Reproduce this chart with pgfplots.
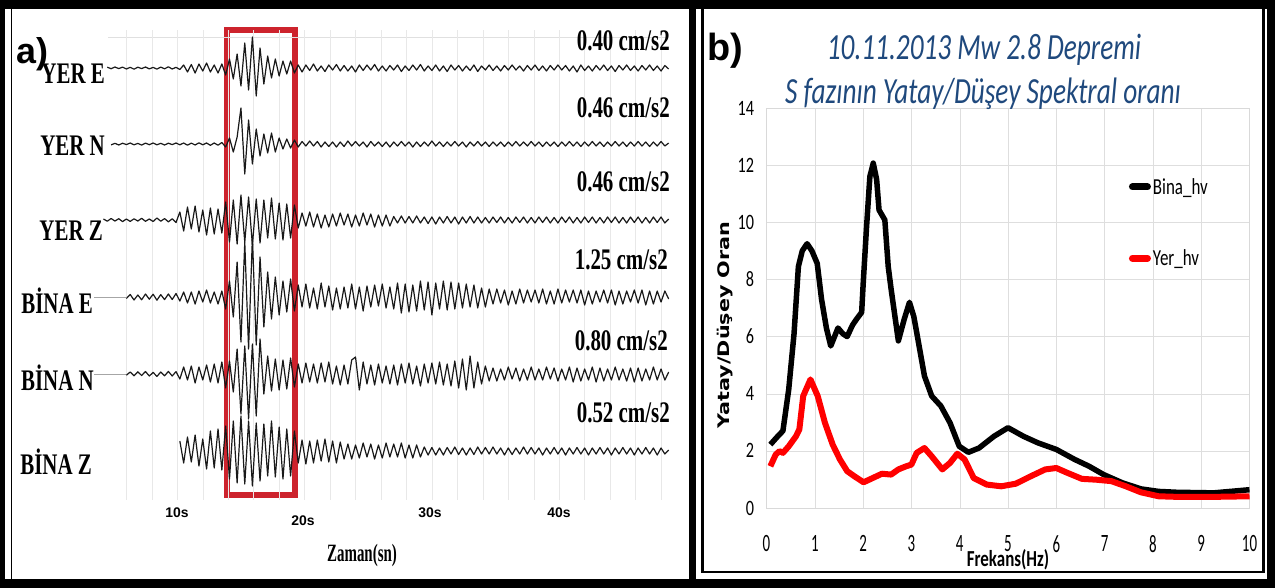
\documentclass[border=0pt]{standalone}
\usepackage{fontspec}
\usepackage{pgfplots}
\usepackage{pgfplotstable}
\pgfplotsset{compat=1.18}
\setmainfont{Liberation Sans}
\newfontfamily\tnr[FakeStretch=0.7]{Liberation Serif}
\newfontfamily\tnrz[FakeStretch=0.6]{Liberation Serif}
\newfontfamily\arl{Liberation Sans}
\newfontfamily\carl[FakeStretch=0.74]{Carlito}
\newfontfamily\carlx[FakeStretch=0.6]{Carlito}
\newfontfamily\dvs[FakeStretch=1.3]{DejaVu Sans}
\definecolor{ttl}{RGB}{31,73,125}
\definecolor{boxred}{RGB}{205,35,45}
\newcommand{\fs}[1]{\fontsize{#1}{#1}\selectfont}

% seismogram traces (px offsets from each baseline), t in s
\pgfplotstableread{
t ye yn yz be bn bz
4.2 0.5 0.4 -1 0 0 0
4.5 -0.8 -0.6 1.2 0 0 0
4.8 0.7 0.9 -1.5 0 0 0
5.1 -1 -0.7 1 0 0 0
5.4 0.6 1 -1.3 0 0 0
5.7 -0.9 -0.8 1.6 0 0 0
6.0 1 0.6 -1 1.5 1.2 0
6.3 -0.7 -1 1.4 -2.5 -2 0
6.6 1.2 0.8 -1.2 3 1.8 0
6.9 -0.8 -0.6 1 -2 -2.2 0
7.2 0.6 1.1 -1.7 2.8 1.5 0
7.5 -1 -0.9 1.3 -3 -2.5 0
7.8 0.9 0.7 -1 2.2 2 0
8.1 -0.6 -1 1.5 -2.8 -1.6 0
8.4 1.1 0.8 -2 3.2 2.4 0
8.7 -0.9 -0.7 1.2 -2.4 -2 0
9.0 0.8 1 -1.4 2.6 1.8 0
9.3 -1.2 -0.8 1.8 -3 -2.6 0
9.6 1 0.6 -1.2 2.5 2 0
9.9 -0.7 -1 2.5 -3.5 -2.4 0
10.2 1.5 0.8 -8 4 5 -10
10.5 -3 -1 11 -5 -7 12
10.8 4 1.2 -13 6 6 -14
11.1 -3.5 -0.9 9 -5 -8 11
11.4 5 1 -14 7 9 -16
11.7 -4 -1.2 12 -6 -7 15
12.0 3 0.8 -10 5 6 -12
12.3 -5 -1 15 -7 -9 18
12.6 4 1.3 -12 6 8 -20
12.9 -3 -1 14 -5 -10 17
13.2 5 1.2 -11 7 9 -22
13.5 -4 -1.5 13 -6 -12 19
13.8 7 3 -18 12 14 -25
14.1 -9 -6 22 -16 -13 28
14.4 11 8 -20 20 18 -30
14.7 -14 -7 24 -35 -25 32
15.0 18 -36 -25 45 40 -35
15.3 -25 30 22 -55 -28 33
15.6 22 -24 -23 52 45 -30
15.9 -31 20 25 -60 -30 35
16.2 28 -15 -21 48 42 -28
16.5 -20 12 23 -40 -35 30
16.8 16 -10 -20 30 20 -27
17.1 -12 9 18 -25 -18 25
17.4 10 -11 -22 22 17 -30
17.7 -9 8 19 -20 -15 26
18.0 8 -6 -17 18 16 -24
18.3 -7 5 20 -16 -14 28
18.6 6 -5 -16 15 15 -22
18.9 -7 4 18 -18 -16 25
19.2 5 -4 -15 14 13 -20
19.5 -3 3 8 -12 -10 12
19.8 4 -2.5 -7 10 9 -11
20.1 -3 2 6 -13 -11 13
20.4 2.5 -3 -8 11 8 -10
20.7 -4 2 7 -9 -10 12
21.0 3 -2.5 -6 12 9 -11
21.3 -2 3 8 -14 -11 10
21.6 3.5 -2 -5 10 8 -12
21.9 -3 2.5 7 -11 -12 11
22.2 2 -2 -6 13 10 -10
22.5 -3.5 3 6 -9 -8 12
22.8 3 -2 -7 12 11 -9
23.1 -2.5 2.5 5 -10 -9 8
23.4 3 -3 -6 11 10 -7
23.7 -2 2 7 -13 -14 8
24.0 4 -2.5 -5 12 -17 -6
24.3 -3 2 6 -10 16 7
24.6 2.5 -2 -7 14 -12 -8
24.9 -3 3 5 -11 10 6
25.2 2 -2.5 -6 10 -9 -7
25.5 -3.5 2 7 -12 11 8
25.8 3 -2 -5 9 -10 -6
26.1 -2 2.5 6 -13 9 7
26.4 3 -2 -5 11 -8 -8
26.7 -2.5 3 6 -10 10 6
27.0 2 -2 -3.5 12 -9 -7
27.3 -3 2 3 -14 11 6
27.6 3.5 -2.5 -4 16 -10 -8
27.9 -2 2 3 -13 9 7
28.2 2.5 -2 -3.5 15 -11 -6
28.5 -3 3 3 -12 10 7
28.8 2 -2 -4 14 -8 -6
29.1 -3.5 2.5 3 -16 12 6
29.4 3 -2 -3 13 -10 -4
29.7 -2 2 3.5 -15 9 4
30.0 2.5 -3 -3 18 -11 -3.5
30.3 -3 2 4 -14 10 4
30.6 3 -2 -3 12 -12 -3
30.9 -2 2.5 3 -16 11 4
31.2 3.5 -2 -3.5 13 -10 -3.5
31.5 -3 2 3 -15 12 3
31.8 2 -2.5 -3 12 -13 -4
32.1 -2.5 2 4 -14 14 3.5
32.4 3 -2 -3 11 -15 -3
32.7 -2 3 3 -13 16 4
33.0 2.5 -2 -3.5 10 -18 -3
33.3 -3 2 3 -12 14 3.5
33.6 3.5 -2.5 -3 11 -12 -4
33.9 -2 2 3 -9 10 3
34.2 2 -2 -2.5 10 -8 -3.5
34.5 -3 2.5 3 -8 7 3
34.8 2.5 -2 -3 7 -6 -4
35.1 -2 2 2.5 -8 7 3
35.4 3 -2 -3 6 -5 -3
35.7 -2.5 2.5 3 -7 6 4
36.0 2 -2 -2.5 8 -7 -3
36.3 -3 2 3 -6 5 3.5
36.6 2 -2.5 -3 7 -6 -3
36.9 -2 2 2.5 -8 7 3
37.2 3 -2 -3 6 -5 -4
37.5 -2.5 2 3 -7 6 3
37.8 2 -2.5 -2.5 5 -7 -3.5
38.1 -3 2 3 -7 6 3
38.4 2.5 -2 -3 6 -5 -3
38.7 -2 2.5 2.5 -8 6 4
39.0 3 -2 -3 7 -7 -3
39.3 -2.5 2 3 -6 5 3
39.6 2 -2 -2.5 7 -6 -3.5
39.9 -3 2.5 3 -8 7 3
40.2 2 -2 -3 6 -5 -3
40.5 -2.5 2 2.5 -7 6 4
40.8 3 -2.5 -3 5 -7 -3
41.1 -2 2 3 -7 8 3
41.4 4 -2 -2.5 6 -6 -3.5
41.7 -3 2.5 3 -7 7 3
42.0 2.5 -2 -3 8 -5 -3
42.3 -2 2 2.5 -6 6 4
42.6 3 -2.5 -3 7 -7 -3
42.9 -2.5 2 3 -6 8 3
43.2 2 -2 -2.5 5 -6 -3.5
43.5 -3 2.5 3 -7 7 3
43.8 2.5 -2 -3 6 -5 -3
44.1 -2 2 2.5 -7 6 4
44.4 3.5 -2.5 -3 8 -7 -3
44.7 -2.5 2 3 -6 6 3
45.0 2 -2 -2.5 7 -5 -3.5
45.3 -3 2.5 3 -6 7 3
45.6 2.5 -2 -3 5 -6 -3
45.9 -2 2 2.5 -7 8 4
46.2 3 -2.5 -3 6 -6 -3
46.5 -2.5 2 3 -7 7 3
46.8 2 -2 -2.5 8 -5 -3.5
47.1 -3 2.5 3 -6 6 3
47.4 2.5 -2 -3 7 -7 -3
47.7 -2 2 2.5 -6 6 4
48.0 3 -2.5 -3 5 -5 -3
48.3 -2.5 2 3 -6 6 3
48.6 1 -1 -1 2 -2 -1
}\traces

% H/V spectral ratios
\pgfplotstableread{
f v
0.08 2.22
0.20 2.45
0.34 2.70
0.46 4.15
0.57 6.10
0.62 7.40
0.66 8.45
0.74 9.00
0.84 9.25
0.94 9.00
1.05 8.56
1.14 7.30
1.24 6.30
1.33 5.67
1.48 6.30
1.58 6.10
1.67 6.00
1.78 6.40
1.86 6.60
1.97 6.85
2.00 7.80
2.07 9.80
2.14 11.60
2.21 12.07
2.28 11.50
2.33 10.43
2.45 10.08
2.52 8.45
2.58 7.66
2.73 5.85
2.85 6.60
2.96 7.20
3.05 6.70
3.11 6.14
3.27 4.62
3.42 3.92
3.61 3.57
3.80 2.98
3.99 2.16
4.18 1.95
4.40 2.10
4.71 2.51
5.00 2.81
5.32 2.51
5.62 2.28
6.00 2.05
6.38 1.70
6.68 1.46
6.98 1.17
7.37 0.88
7.75 0.67
8.12 0.58
8.50 0.55
9.26 0.53
10.00 0.64
}\bina
\pgfplotstableread{
f v
0.08 1.46
0.19 1.87
0.27 1.99
0.34 1.93
0.46 2.16
0.61 2.51
0.68 2.75
0.76 3.92
0.91 4.50
1.06 3.92
1.21 2.98
1.37 2.22
1.52 1.70
1.67 1.29
1.82 1.11
2.01 0.90
2.20 1.05
2.39 1.20
2.58 1.17
2.73 1.35
2.89 1.46
3.00 1.52
3.11 1.93
3.27 2.10
3.42 1.81
3.64 1.35
3.80 1.58
3.95 1.90
4.10 1.70
4.29 1.05
4.56 0.82
4.86 0.76
5.16 0.85
5.47 1.11
5.77 1.35
6.00 1.40
6.23 1.23
6.53 1.02
6.83 0.99
7.14 0.94
7.44 0.76
7.75 0.55
8.12 0.41
8.50 0.39
9.26 0.39
10.00 0.41
}\yer

\begin{document}
\begin{tikzpicture}[trace/.style={black!90, line width=1.2bp, line join=round}]
\useasboundingbox (0,0) rectangle (1275bp,-588bp);
\fill[white] (0,0) rectangle (1275bp,-588bp);

% ---------- panel a ----------
\draw[boxred, line width=6bp] (227bp,-30bp) rectangle (295bp,-495bp);
\draw[black!12] (108bp,-37bp) -- (668bp,-37bp);
\draw[black!35] (94bp,-297bp) -- (127bp,-297bp);
\draw[black!35] (94bp,-374bp) -- (127bp,-374bp);

\begin{axis}[
    at={(50bp,-30bp)}, anchor=north west,
    scale only axis, width=636.5bp, height=470bp,
    xmin=0, xmax=50, ymin=30, ymax=500, y dir=reverse,
    clip=false, axis line style={draw=none},
    xtick={6,8,...,48}, xticklabels={}, ytick=\empty,
    major tick length=0pt,
    xmajorgrids, grid style={black!9},
]
\addplot[trace, restrict x to domain=4.4:49] table[x=t, y expr=\thisrow{ye}+68] {\traces};
\addplot[trace, restrict x to domain=4.7:49] table[x=t, y expr=\thisrow{yn}+144] {\traces};
\addplot[trace, restrict x to domain=4.1:49] table[x=t, y expr=\thisrow{yz}+220] {\traces};
\addplot[trace, restrict x to domain=5.9:49] table[x=t, y expr=\thisrow{be}+297] {\traces};
\addplot[trace, restrict x to domain=5.9:49] table[x=t, y expr=\thisrow{bn}+374] {\traces};
\addplot[trace, restrict x to domain=10.1:49] table[x=t, y expr=\thisrow{bz}+451] {\traces};
\end{axis}

\begin{scope}[every node/.style={inner sep=0pt, font=\tnr\bfseries\fs{30}}]
\node[anchor=base east] at (105bp,-83bp) {YER E};
\node[anchor=base east] at (105bp,-155bp) {YER N};
\node[anchor=base east] at (103bp,-240bp) {YER Z};
\node[anchor=base east] at (93bp,-313bp) {BİNA E};
\node[anchor=base east] at (94bp,-390bp) {BİNA N};
\node[anchor=base east] at (92bp,-474bp) {BİNA Z};
\node[anchor=base east] at (670bp,-50bp) {0.40 cm/s2};
\node[anchor=base east] at (670bp,-117bp) {0.46 cm/s2};
\node[anchor=base east] at (670bp,-191bp) {0.46 cm/s2};
\node[anchor=base east] at (668bp,-269bp) {1.25 cm/s2};
\node[anchor=base east] at (668bp,-350bp) {0.80 cm/s2};
\node[anchor=base east] at (670bp,-422bp) {0.52 cm/s2};
\end{scope}
\begin{scope}[every node/.style={inner sep=0pt, anchor=base, font=\arl\bfseries\fs{14}}]
\node at (177bp,-517bp) {10s};
\node at (303bp,-525bp) {20s};
\node at (430bp,-517bp) {30s};
\node at (559bp,-517bp) {40s};
\end{scope}
\node[inner sep=0pt, anchor=base, font=\tnrz\bfseries\fs{25}] at (362bp,-561bp) {Zaman(sn)};

% ---------- panel b ----------
\begin{axis}[
    at={(766.5bp,-508bp)}, anchor=south west,
    scale only axis, width=483bp, height=400bp,
    xmin=0, xmax=10, ymin=0, ymax=14,
    xtick={0,1,...,10}, ytick={0,2,...,14},
    grid=major, grid style={black!13}, axis line style={black!15},
    major tick length=0pt,
    /pgf/number format/assume math mode=true,
    xticklabel style={font=\carlx\fs{25}, yshift=-24bp},
    yticklabel style={font=\carl\fs{22}, xshift=-9bp},
    xlabel={Frekans(Hz)},
    xlabel style={font=\carl\bfseries\fs{23}, at={(axis description cs:0.5,-0.13)}, anchor=center},
    ylabel={Yatay/Düşey Oran},
    ylabel style={font=\dvs\bfseries\fs{16}, at={(axis description cs:-0.086,0.4575)}, anchor=center},
    legend style={draw=none, fill=none, at={(axis description cs:0.75,0.83)}, anchor=north west,
        font=\carl\fs{23}, row sep=50bp, inner sep=0pt},
    legend cell align=left,
    legend image code/.code={\draw[#1, line width=7bp, line cap=round] (0bp,0bp) -- (15bp,0bp);},
]
\addplot[black, line width=5.5bp, line join=round] table[x=f, y=v] {\bina};
\addplot[red, line width=6bp, line join=round] table[x=f, y=v] {\yer};
\legend{Bina\_hv, Yer\_hv}
\end{axis}

\begin{scope}[every node/.style={inner sep=0pt, anchor=base, text=ttl, font=\carl\itshape\fs{37}}]
\node at (984bp,-59bp) {10.11.2013 Mw 2.8 Depremi};
\node at (983bp,-103bp) {S fazının Yatay/Düşey Spektral oranı};
\end{scope}

% ---------- frames ----------
\fill (0,0) rectangle (1275bp,-9bp);
\fill (0,-579bp) rectangle (1275bp,-588bp);
\fill (0,0) rectangle (5bp,-588bp);
\fill (1267bp,0) rectangle (1275bp,-588bp);
\fill (689bp,0) rectangle (696bp,-588bp);
\draw[line width=1.5bp] (11.5bp,-9bp) -- (11.5bp,-579bp);
\draw[line width=2.5bp] (702.5bp,-9bp) -- (702.5bp,-572bp) -- (1263.5bp,-572bp) -- (1263.5bp,-9bp);

\node[inner sep=0pt, anchor=base west, font=\arl\bfseries\fs{36}] at (16bp,-63bp) {a)};
\node[inner sep=0pt, anchor=base west, font=\arl\bfseries\fs{38}] at (707bp,-60bp) {b)};
\end{tikzpicture}
\end{document}
